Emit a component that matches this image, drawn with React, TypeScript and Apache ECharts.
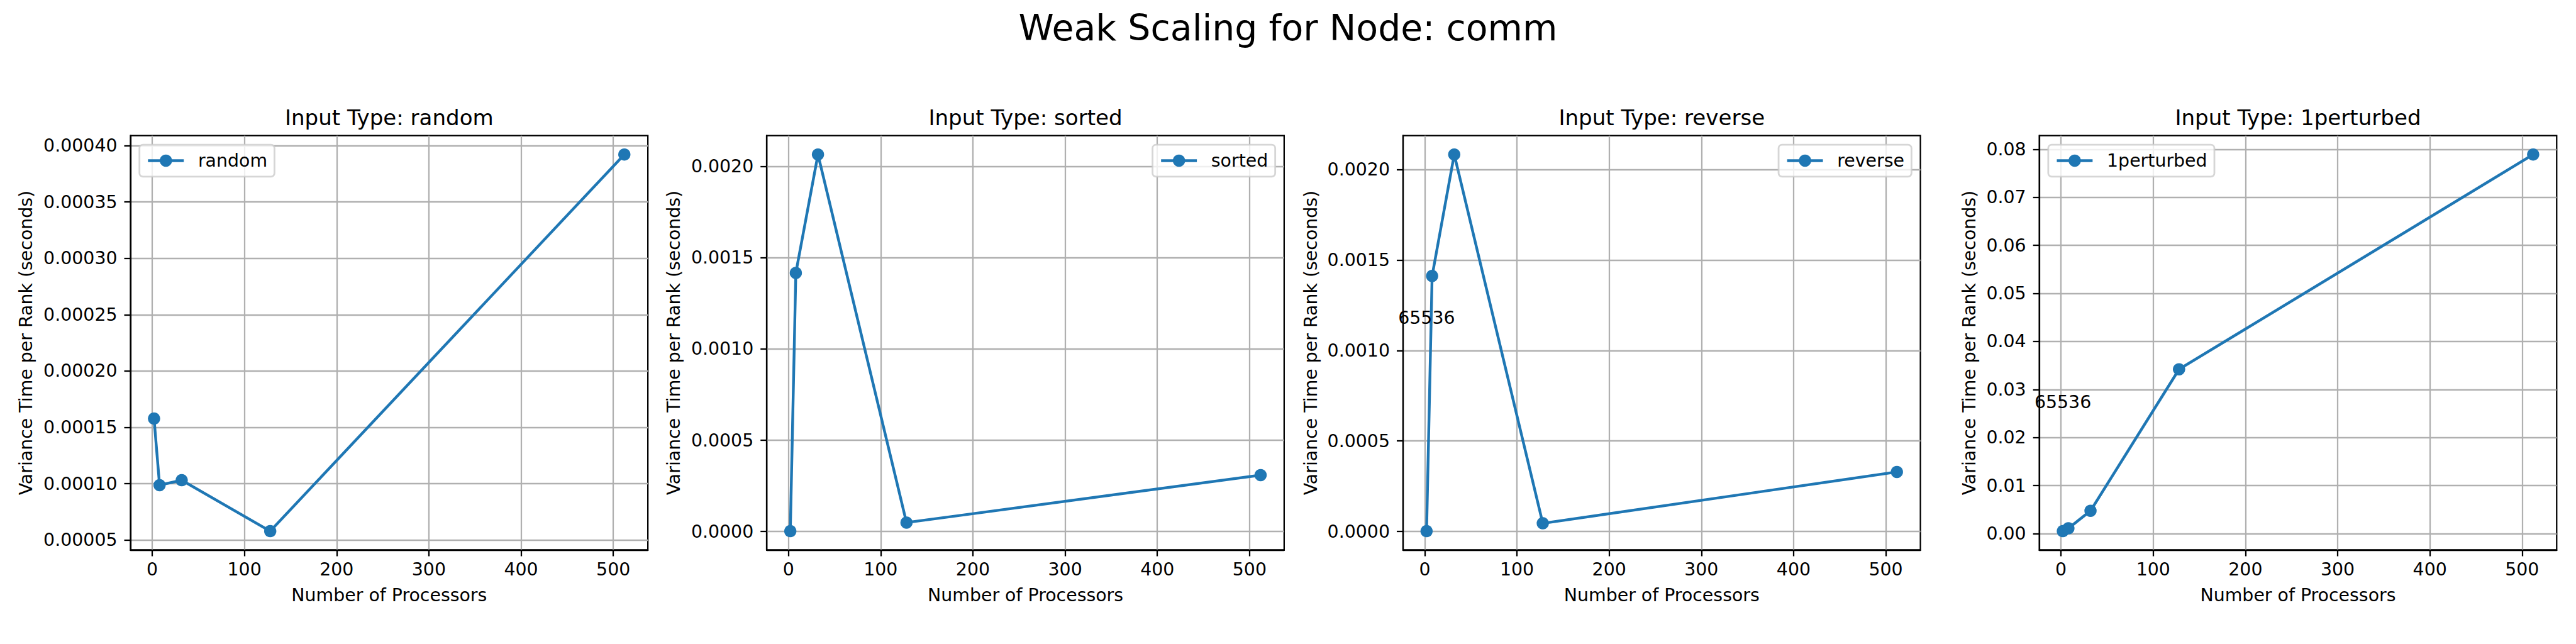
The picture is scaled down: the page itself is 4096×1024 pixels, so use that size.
import React, { useEffect, useRef } from 'react';
import * as echarts from 'echarts';

// ---- data ----
const processors = [2, 8, 32, 128, 512];
const randomValues = [0.0001578, 0.0000987, 0.0001031, 0.0000579, 0.0003921];
const sortedValues = [0.000002, 0.001417, 0.002066, 0.0000489, 0.000309];
const reverseValues = [0.000002, 0.001412, 0.002083, 0.0000454, 0.000329];
const perturbedValues = [0.00052, 0.00111, 0.00475, 0.0342, 0.0789];

const inputTypes = ['random', 'sorted', 'reverse', '1perturbed'];
const xTicks = [0, 100, 200, 300, 400, 500];
const randomTicks = [0.00005, 0.0001, 0.00015, 0.0002, 0.00025, 0.0003, 0.00035, 0.0004];
const sortedTicks = [0, 0.0005, 0.001, 0.0015, 0.002];
const reverseTicks = [0, 0.0005, 0.001, 0.0015, 0.002];
const perturbedTicks = [0, 0.01, 0.02, 0.03, 0.04, 0.05, 0.06, 0.07, 0.08];
const tickDecimals = [5, 4, 4, 2];
const annotationText = '65536';
const annotationX = 2;
const annotationY: (number | null)[] = [null, null, 0.00118, 0.0273];

const suptitle = 'Weak Scaling for Node: comm';
const xLabel = 'Number of Processors';
const yLabel = 'Variance Time per Rank (seconds)';

const seriesValues = [randomValues, sortedValues, reverseValues, perturbedValues];
const yTickSets = [randomTicks, sortedTicks, reverseTicks, perturbedTicks];
const legendSide = ['left', 'right', 'right', 'left'];

// ---- layout (reference px scaled to window) ----
const W = 4096;
const H = 1024;
const S = W / 6000;
const px = (v: number) => v * S;
const FONT = 'DejaVu Sans';
const BLUE = '#1f77b4';
const gridLefts = [304, 1786, 3268, 4750].map(px);
const gridTop = px(316);
const gridW = px(1205);
const gridH = px(965);
const yLabelX = [61.5, 1570, 3053, 4587].map(px);
const lw = 2.27;
const seriesLw = 4.4;

function padRange(vals: number[]) {
  const lo = Math.min(...vals);
  const hi = Math.max(...vals);
  const m = (hi - lo) * 0.05;
  return [lo - m, hi + m];
}

export default function App() {
  const ref = useRef<HTMLDivElement>(null);
  useEffect(() => {
    if (!ref.current) return;
    const chart = echarts.init(ref.current, undefined, { renderer: 'svg' });
    const [xMin, xMax] = padRange(processors);

    const grid: any[] = [];
    const xAxis: any[] = [];
    const yAxis: any[] = [];
    const series: any[] = [];
    const legend: any[] = [];
    const graphic: any[] = [];

    graphic.push({
      type: 'text',
      x: W / 2,
      y: 43.8,
      style: { text: suptitle, fontSize: 56.9, fontFamily: FONT, fill: '#000', textAlign: 'center', textVerticalAlign: 'middle' },
    });

    inputTypes.forEach((name, i) => {
      const vals = seriesValues[i];
      const [yMin, yMax] = padRange(vals);
      const left = gridLefts[i];
      grid.push({
        left,
        top: gridTop,
        width: gridW,
        height: gridH,
        show: true,
        borderColor: '#000',
        borderWidth: lw,
        backgroundColor: 'transparent',
        containLabel: false,
        outerBoundsMode: 'none',
      });
      xAxis.push({
        type: 'value',
        gridIndex: i,
        min: xMin,
        max: xMax,
        axisLine: { show: true, onZero: false, lineStyle: { color: '#000', width: lw } },
        axisTick: { show: true, length: 10, lineStyle: { color: '#000', width: lw }, customValues: xTicks },
        axisLabel: {
          customValues: xTicks,
          margin: 17,
          fontSize: 28.4,
          fontFamily: FONT,
          color: '#000',
          formatter: (v: number) => String(Math.round(v)),
        },
        splitLine: { show: true, lineStyle: { color: '#b0b0b0', width: lw } },
      });
      yAxis.push({
        type: 'value',
        gridIndex: i,
        min: yMin,
        max: yMax,
        axisLine: { show: true, onZero: false, lineStyle: { color: '#000', width: lw } },
        axisTick: { show: true, length: 10, lineStyle: { color: '#000', width: lw }, customValues: yTickSets[i] },
        axisLabel: {
          customValues: yTickSets[i],
          margin: 21,
          fontSize: 28.4,
          fontFamily: FONT,
          color: '#000',
          formatter: (v: number) => v.toFixed(tickDecimals[i]),
        },
        splitLine: { show: true, lineStyle: { color: '#b0b0b0', width: lw } },
      });
      const s: any = {
        type: 'line',
        name,
        xAxisIndex: i,
        yAxisIndex: i,
        data: processors.map((x, j) => [x, vals[j]]),
        symbol: 'circle',
        symbolSize: 19.5,
        showAllSymbol: true,
        lineStyle: { color: BLUE, width: seriesLw },
        itemStyle: { color: BLUE },
        emphasis: { disabled: true },
        z: 3,
      };
      const ay = annotationY[i];
      if (ay !== null) {
        s.markPoint = {
          symbol: 'rect',
          symbolSize: 1,
          itemStyle: { color: 'rgba(0,0,0,0)' },
          label: {
            show: true,
            position: 'inside',
            formatter: annotationText,
            color: '#000',
            fontSize: 28.4,
            fontFamily: FONT,
          },
          data: [{ coord: [annotationX, ay], value: Number(annotationText) }],
        };
      }
      series.push(s);

      const lg: any = {
        data: [name],
        top: px(337),
        orient: 'horizontal',
        padding: [11.4, 11.4, 11.4, 11.4],
        itemWidth: 56.9,
        itemHeight: 24.5,
        backgroundColor: 'rgba(255,255,255,0.8)',
        borderColor: 'rgba(204,204,204,0.8)',
        borderWidth: 2.8,
        borderRadius: 5.5,
        selectedMode: false,
        lineStyle: { width: seriesLw, color: BLUE },
        itemStyle: { color: BLUE },
        textStyle: { fontSize: 28.4, fontFamily: FONT, color: '#000', padding: [0, 0, 0, 17.7] },
      };
      if (legendSide[i] === 'left') lg.left = left + px(20.8);
      else lg.right = W - (left + gridW) + px(20.8);
      legend.push(lg);

      graphic.push({
        type: 'text',
        x: left + gridW / 2,
        y: 186.9,
        style: { text: 'Input Type: ' + name, fontSize: 34.1, fontFamily: FONT, fill: '#000', textAlign: 'center', textVerticalAlign: 'middle' },
      });
      graphic.push({
        type: 'text',
        x: left + gridW / 2,
        y: px(1386),
        style: { text: xLabel, fontSize: 28.4, fontFamily: FONT, fill: '#000', textAlign: 'center', textVerticalAlign: 'middle' },
      });
      graphic.push({
        type: 'text',
        x: yLabelX[i],
        y: gridTop + gridH / 2,
        rotation: Math.PI / 2,
        style: { text: yLabel, fontSize: 28.4, fontFamily: FONT, fill: '#000', textAlign: 'center', textVerticalAlign: 'middle' },
      });
    });

    chart.setOption({
      animation: false,
      backgroundColor: '#fff',
      textStyle: { fontFamily: FONT },
      grid,
      xAxis,
      yAxis,
      series,
      legend,
      graphic,
    });
    return () => chart.dispose();
  }, []);
  return <div ref={ref} style={{ position: 'absolute', left: 0, top: 0, width: W, height: H, background: '#fff' }} />;
}
